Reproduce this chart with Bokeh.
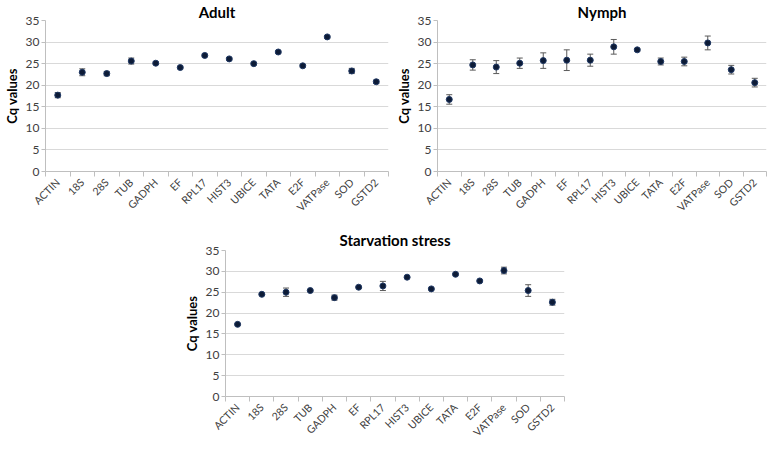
import numpy as np
from bokeh.plotting import figure
from bokeh.models import (ColumnDataSource, Whisker, TeeHead, FixedTicker,
                          Range1d, Spacer)
from bokeh.layouts import column, row
from bokeh.embed import file_html
from bokeh.resources import INLINE

genes = ["ACTIN", "18S", "28S", "TUB", "GADPH", "EF", "RPL17", "HIST3",
         "UBICE", "TATA", "E2F", "VATPase", "SOD", "GSTD2"]

adult_cq = [17.7, 23.0, 22.7, 25.6, 25.1, 24.1, 26.9, 26.1, 25.0, 27.7, 24.5, 31.2, 23.3, 20.8]
adult_err = [0.6, 0.8, 0.5, 0.7, 0.3, 0.3, 0.3, 0.3, 0.3, 0.3, 0.3, 0.3, 0.6, 0.4]

nymph_cq = [16.7, 24.7, 24.2, 25.1, 25.7, 25.8, 25.8, 28.9, 28.2, 25.5, 25.5, 29.8, 23.6, 20.6]
nymph_err = [1.1, 1.2, 1.5, 1.2, 1.8, 2.4, 1.4, 1.7, 0.3, 0.8, 1.0, 1.6, 1.0, 1.0]

starv_cq = [17.3, 24.5, 25.0, 25.4, 23.7, 26.2, 26.5, 28.6, 25.8, 29.3, 27.7, 30.2, 25.4, 22.6]
starv_err = [0.2, 0.2, 1.0, 0.2, 0.6, 0.2, 1.1, 0.2, 0.2, 0.2, 0.2, 0.8, 1.4, 0.7]

y_ticks = [0, 5, 10, 15, 20, 25, 30, 35]
y_label = "Cq values"

FONT = "Lato"
TICK_COLOR = "#404040"
AXIS_COLOR = "#bfbfbf"
GRID_COLOR = "#d9d9d9"
ERR_COLOR = "#5a5a5a"
DOT_FILL = "#0d1b36"
DOT_LINE = "#1f3864"


def make_panel(title, cq, err, width, height, bl, br, bb, title_gap):
    n = len(genes)
    centers = [i + 0.5 for i in range(n)]
    bounds = [float(i) for i in range(n + 1)]
    src = ColumnDataSource(dict(
        x=centers,
        y=cq,
        upper=[c + e for c, e in zip(cq, err)],
        lower=[c - e for c, e in zip(cq, err)],
    ))
    p = figure(width=width, height=height, output_backend="svg",
               toolbar_location=None, x_range=Range1d(0, n),
               y_range=Range1d(y_ticks[0], y_ticks[-1]),
               min_border_left=bl, min_border_right=br,
               min_border_top=0, min_border_bottom=bb,
               title=title, sizing_mode="fixed",
               width_policy="fixed", height_policy="fixed")
    p.outline_line_color = None
    p.background_fill_color = "white"
    p.border_fill_color = "white"

    p.title.text_font = FONT
    p.title.text_font_size = "15px"
    p.title.text_font_style = "bold"
    p.title.text_color = "#000000"
    p.title.align = "center"
    p.title.standoff = title_gap
    p.title.text_line_height = 0.9

    xa = p.xaxis[0]
    xa.ticker = FixedTicker(ticks=centers, minor_ticks=bounds)
    xa.major_label_overrides = {c: g for c, g in zip(centers, genes)}
    xa.major_label_orientation = np.pi / 4
    xa.major_tick_out = 0
    xa.major_tick_in = 0
    xa.minor_tick_out = 5
    xa.minor_tick_in = 0
    xa.minor_tick_line_color = AXIS_COLOR
    xa.axis_line_color = AXIS_COLOR
    xa.major_label_text_font = FONT
    xa.major_label_text_font_size = "10.5px"
    xa.major_label_text_line_height = 0.9
    xa.major_label_text_color = TICK_COLOR
    xa.major_label_standoff = 4

    ya = p.yaxis[0]
    ya.ticker = FixedTicker(ticks=y_ticks)
    ya.major_tick_out = 4
    ya.major_tick_in = 0
    ya.minor_tick_out = 0
    ya.minor_tick_in = 0
    ya.major_tick_line_color = AXIS_COLOR
    ya.axis_line_color = AXIS_COLOR
    ya.major_label_text_font = FONT
    ya.major_label_text_font_size = "12px"
    ya.major_label_text_color = TICK_COLOR
    ya.major_label_standoff = 2
    ya.axis_label = y_label
    ya.axis_label_text_font = FONT
    ya.axis_label_text_font_size = "13px"
    ya.axis_label_text_font_style = "bold"
    ya.axis_label_text_color = "#000000"
    ya.axis_label_standoff = 3

    p.xgrid.grid_line_color = None
    p.ygrid.ticker = FixedTicker(ticks=y_ticks)
    p.ygrid.grid_line_color = GRID_COLOR
    p.ygrid.grid_line_width = 1

    w = Whisker(source=src, base="x", upper="upper", lower="lower",
                line_color=ERR_COLOR, line_width=1,
                upper_head=TeeHead(size=6, line_color=ERR_COLOR, line_width=1),
                lower_head=TeeHead(size=6, line_color=ERR_COLOR, line_width=1))
    p.add_layout(w)
    p.scatter("x", "y", source=src, size=6, marker="circle",
              fill_color=DOT_FILL, line_color=DOT_LINE, line_width=1)
    return p


p1 = make_panel("Adult", adult_cq, adult_err, 392, 220, 34, 4, 10, 0)
p2 = make_panel("Nymph", nymph_cq, nymph_err, 376, 220, 40, 2, 10, 0)
p3 = make_panel("Starvation stress", starv_cq, starv_err, 396, 219, 41, 12, 10, 4)

top = row(p1, p2)
gap = Spacer(width=768, height=6)
# the bottom row is clipped so that the empty space Bokeh reserves below the
# rotated gene names does not push the page past the window
bottom = row(Spacer(width=180, height=215), p3, width=576, height=215,
             sizing_mode="fixed", styles={"overflow": "hidden"})

layout = column(top, gap, bottom)

open("out.html", "w").write(file_html(layout, INLINE))
